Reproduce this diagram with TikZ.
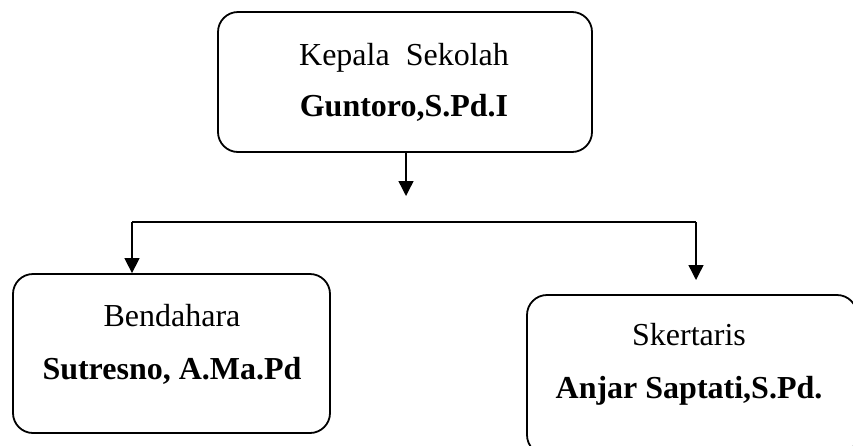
\documentclass[tikz,border=0pt]{standalone}
\usepackage{fontspec}
\setmainfont{Liberation Serif}
\usetikzlibrary{arrows.meta,positioning}

\begin{document}
\begin{tikzpicture}[
    x=1pt, y=-1pt,
    unit/.style={rectangle, draw, line width=1.8pt, rounded corners=20pt},
    unittext/.style={align=center, font=\fontsize{32}{38}\selectfont, inner sep=0pt},
    link/.style={line width=1.4pt},
    arrow/.style={link, -{Triangle[length=15pt, width=15pt]}}
]
    \useasboundingbox (0,0) rectangle (853,445);
    \clip (0,0) rectangle (853,445);

    % Head of school
    \node [unit, minimum width=374pt, minimum height=140pt] (kepala) at (405,82) {};
    \node [unittext] (kepalaText) at (404,82) {Kepala~~Sekolah\\[13pt]\textbf{Guntoro,S.Pd.I}};

    % Treasurer and secretary
    \node [unit, minimum width=317pt, minimum height=159pt] (bendahara) at (171.5,353.5) {};
    \node [unittext] (bendaharaText) at (172,344) {Bendahara\\[15pt]\textbf{Sutresno, A.Ma.Pd}};
    \node [unit, minimum width=330pt, minimum height=160pt] (sekretaris) at (692,375) {};
    \node [unittext] (sekretarisText) at (689,364) {Skertaris\\[15pt]\textbf{Anjar Saptati,S.Pd.}};

    % Branch points
    \coordinate (junction) at (406,196);
    \coordinate (branchL) at (132,222);
    \coordinate (branchR) at (696,222);
    \coordinate (tipR) at (696,280);

    % Arrows
    \draw [arrow] (kepala.south -| junction) -- (junction);
    \draw [link] (branchL) -- (branchR);
    \draw [arrow] (branchL) -- (branchL |- bendahara.north);
    \draw [arrow] (branchR) -- (tipR);
\end{tikzpicture}
\end{document}
